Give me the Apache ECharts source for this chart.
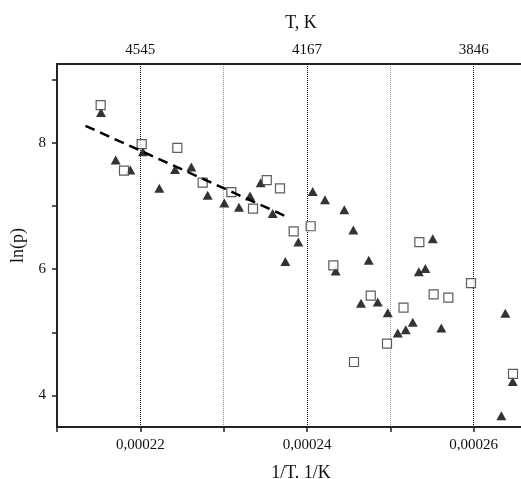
<!DOCTYPE html>
<html>
<head>
<meta charset="utf-8">
<script src="https://cdn.jsdelivr.net/npm/echarts@6/dist/echarts.min.js"></script>
<style>
  html, body { margin: 0; padding: 0; background: #fff; overflow: hidden; }
  #chart { width: 521px; height: 479px; }
</style>
</head>
<body>
<div id="chart"></div>
<script>
  // open squares
  const squareX = [0.00021524, 0.00021804, 0.00022016, 0.00022444, 0.00022748, 0.00023092, 0.00023352,
    0.00023517, 0.00023676, 0.0002384, 0.00024044, 0.00024316, 0.00024564, 0.00024765, 0.0002496,
    0.00025158, 0.00025348, 0.0002552, 0.00025696, 0.00025968, 0.00026472]
  const squareY = [8.60, 7.56, 7.98, 7.92, 7.37, 7.22, 6.96,
    7.41, 7.28, 6.60, 6.68, 6.06, 4.53, 5.58, 4.82,
    5.39, 6.43, 5.60, 5.55, 5.78, 4.34]

  // filled triangles
  const triX = [0.00021528, 0.00021704, 0.0002188, 0.00022032, 0.00022228, 0.00022416, 0.00022612,
    0.00022808, 0.00023008, 0.00023184, 0.00023316, 0.00023444, 0.00023588, 0.0002374, 0.00023896,
    0.00024068, 0.00024216, 0.00024448, 0.00024556, 0.00024344, 0.00024741, 0.00024648, 0.00024849,
    0.00024969, 0.00025089, 0.00025185, 0.00025269, 0.00025342, 0.0002542, 0.00025509, 0.00025612,
    0.0002638, 0.00026469, 0.00026332]
  const triY = [8.48, 7.73, 7.57, 7.86, 7.28, 7.58, 7.62,
    7.17, 7.05, 6.98, 7.16, 7.37, 6.88, 6.12, 6.43,
    7.23, 7.10, 6.94, 6.62, 5.97, 6.14, 5.46, 5.48,
    5.31, 4.99, 5.04, 5.16, 5.96, 6.01, 6.48, 5.07,
    5.30, 4.22, 3.68]

  // dashed fit line
  const fitX = [0.00021342, 0.0002376]
  const fitY = [8.27, 6.83]

  const xTickVals = [0.00022, 0.00024, 0.00026]
  const xTickLabels = ['0,00022', '0,00024', '0,00026']
  const tTickLabels = ['4545', '4167', '3846']
  const yTickVals = [4, 5, 6, 7, 8, 9]
  const yLabelVals = [4, 6, 8]

  const zip = (xs, ys) => xs.map((x, i) => [x, ys[i]])
  const pickLabel = (labels) => (v) => {
    const i = xTickVals.findIndex(t => Math.abs(t - v) < 1e-9)
    return i < 0 ? '' : labels[i]
  }

  const font = 'Liberation Serif'
  const axisCol = '#222'

  // plot runs past the right edge of the picture (it is cropped there)
  const xBase = {
    type: 'value',
    min: 0.00021,
    max: 0.00026856,
    interval: 0.00001,
    nameLocation: 'middle',
    nameTextStyle: { fontFamily: font, fontSize: 18, color: '#111' },
    axisLine: { show: true, onZero: false, lineStyle: { color: axisCol, width: 2 } }
  }

  const option = {
    animation: false,
    backgroundColor: '#fff',
    grid: { left: 57, top: 64, width: 488, bottom: 52, outerBoundsMode: 'none', containLabel: false },
    xAxis: [
      Object.assign({}, xBase, {
        position: 'bottom',
        name: '1/T. 1/K',
        nameGap: 37,
        axisTick: { show: true, length: 5, lineStyle: { color: axisCol, width: 1.5 } },
        axisLabel: { margin: 11, fontFamily: font, fontSize: 15, color: '#111', formatter: pickLabel(xTickLabels) },
        splitLine: { show: true, showMaxLine: false, lineStyle: { color: ['#999', '#000'], type: [1, 1], width: 1 } }
      }),
      Object.assign({}, xBase, {
        position: 'top',
        name: 'T, K',
        nameGap: 32,
        axisTick: { show: false },
        axisLabel: { margin: 6, fontFamily: font, fontSize: 15, color: '#111', formatter: pickLabel(tTickLabels) },
        splitLine: { show: false }
      })
    ],
    yAxis: {
      type: 'value',
      min: 3.5,
      max: 9.25,
      name: 'ln(p)',
      nameLocation: 'middle',
      nameGap: 27,
      nameTextStyle: { fontFamily: font, fontSize: 18, color: '#111' },
      axisLine: { show: true, onZero: false, lineStyle: { color: axisCol, width: 2 } },
      axisTick: { show: true, length: 5, customValues: yTickVals, lineStyle: { color: axisCol, width: 1.5 } },
      axisLabel: { margin: 11, fontFamily: font, fontSize: 15, color: '#111', customValues: yLabelVals },
      splitLine: { show: false }
    },
    series: [
      {
        name: 'triangles',
        type: 'scatter',
        symbol: 'triangle',
        symbolSize: [10, 9],
        itemStyle: { color: '#000' },
        data: zip(triX, triY)
      },
      {
        name: 'fit',
        type: 'line',
        symbol: 'none',
        lineStyle: { color: '#000', width: 2.5, type: [10, 6] },
        data: zip(fitX, fitY)
      },
      {
        name: 'squares',
        type: 'scatter',
        symbol: 'rect',
        symbolSize: 9,
        itemStyle: { color: '#fff', borderColor: '#333', borderWidth: 1.2 },
        data: zip(squareX, squareY)
      }
    ]
  }

  const chart = echarts.init(document.getElementById('chart'), null, { renderer: 'canvas' })
  chart.setOption(option)
</script>
</body>
</html>
